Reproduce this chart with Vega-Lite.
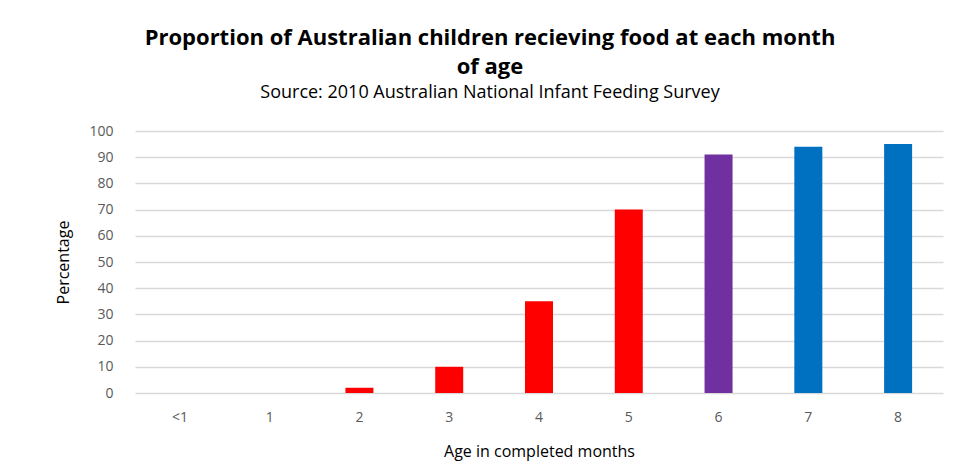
{
  "$schema": "https://vega.github.io/schema/vega-lite/v6.json",
  "autosize": "none",
  "width": 808,
  "height": 262,
  "padding": {"left": 135, "top": 131, "right": 15, "bottom": 70},
  "background": "white",
  "title": {
    "text": ["Proportion of Australian children recieving food  at each month", "of age"],
    "subtitle": "Source:  2010 Australian National Infant Feeding Survey",
    "anchor": "middle",
    "dx": -49,
    "offset": 21,
    "font": "Open Sans",
    "fontSize": 22,
    "fontWeight": "bold",
    "color": "#000000",
    "lineHeight": 29,
    "subtitleFont": "Open Sans",
    "subtitleFontSize": 18,
    "subtitleColor": "#000000",
    "subtitlePadding": 5
  },
  "data": {
    "values": [
      {"age": "<1", "pct": 0, "group": "early"},
      {"age": "1", "pct": 0, "group": "early"},
      {"age": "2", "pct": 2, "group": "early"},
      {"age": "3", "pct": 10, "group": "early"},
      {"age": "4", "pct": 35, "group": "early"},
      {"age": "5", "pct": 70, "group": "early"},
      {"age": "6", "pct": 91, "group": "six"},
      {"age": "7", "pct": 94, "group": "later"},
      {"age": "8", "pct": 95, "group": "later"}
    ]
  },
  "mark": {"type": "bar", "width": 28},
  "encoding": {
    "x": {
      "field": "age",
      "type": "nominal",
      "sort": null,
      "scale": {"paddingInner": 0.69, "paddingOuter": 0.345},
      "axis": {
        "title": "Age  in completed months",
        "titleFont": "Open Sans",
        "titleFontSize": 16,
        "titleFontWeight": "normal",
        "titleColor": "#000000",
        "titlePadding": 19,
        "labelFont": "Open Sans",
        "labelFontSize": 14,
        "labelColor": "#595959",
        "labelAngle": 0,
        "labelPadding": 17,
        "ticks": false,
        "domain": false
      }
    },
    "y": {
      "field": "pct",
      "type": "quantitative",
      "scale": {"domain": [0, 100]},
      "axis": {
        "title": "Percentage",
        "titleFont": "Open Sans",
        "titleFontSize": 16,
        "titleFontWeight": "normal",
        "titleColor": "#000000",
        "titlePadding": 17,
        "labelFont": "Open Sans",
        "labelFontSize": 14,
        "labelColor": "#595959",
        "labelPadding": 22,
        "labelOverlap": false,
        "values": [0, 10, 20, 30, 40, 50, 60, 70, 80, 90, 100],
        "ticks": false,
        "domain": false,
        "grid": true,
        "gridColor": "#D9D9D9",
        "gridWidth": 1.5
      }
    },
    "color": {
      "field": "group",
      "type": "nominal",
      "scale": {"domain": ["early", "six", "later"], "range": ["#FF0000", "#7030A0", "#0070C0"]},
      "legend": null
    }
  },
  "config": {"view": {"stroke": null}}
}
